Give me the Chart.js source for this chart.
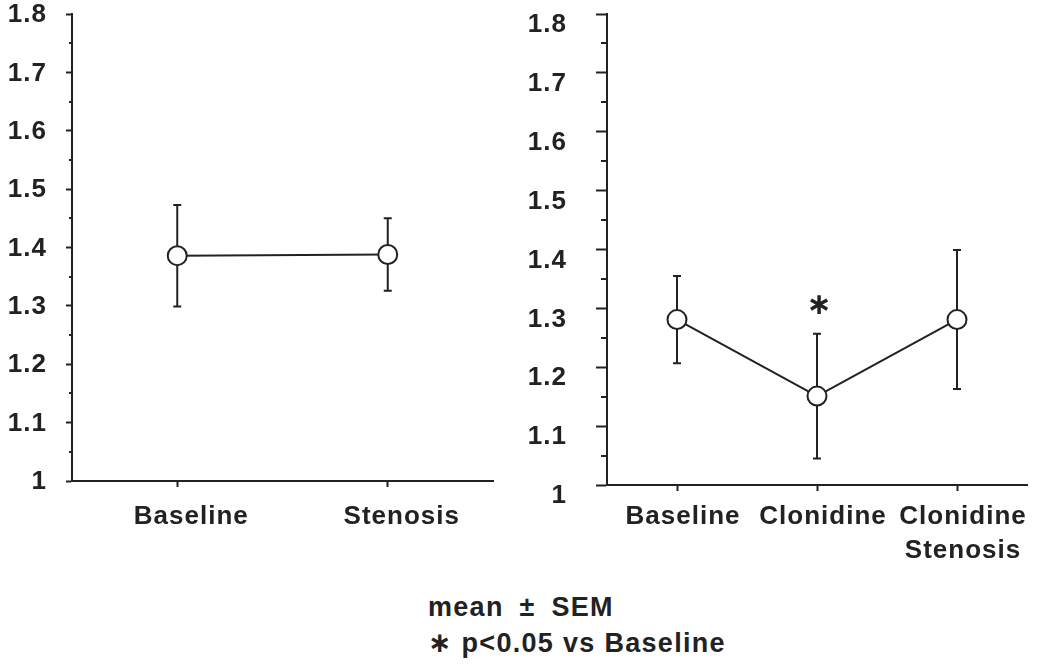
<!DOCTYPE html>
<html>
<head>
<meta charset="utf-8">
<script src="https://cdn.jsdelivr.net/npm/chart.js@4.4.1/dist/chart.umd.min.js"></script>
<style>
  html, body { margin: 0; padding: 0; background: #ffffff; }
  body { width: 1040px; height: 670px; position: relative; overflow: hidden; }
  canvas { position: absolute; }
  #c1 { left: 0; top: 0; }
  #c2 { left: 520px; top: 0; }
  .note { position: absolute; left: 428px; font: bold 27px "Liberation Sans", Arial, sans-serif; color: #222; line-height: 32px; white-space: pre; letter-spacing: 1.3px; }
  .star { font-family: "DejaVu Sans", sans-serif; font-size: 28px; }
</style>
</head>
<body>
<canvas id="c1" width="520" height="560"></canvas>
<canvas id="c2" width="520" height="580"></canvas>
<div class="note" style="top:591px; word-spacing:7px">mean ± SEM</div>
<div class="note" style="top:627px"><span class="star">∗</span> p&lt;0.05 vs Baseline</div>
<script>
// ---- data ----
const leftCategories = ['Baseline', 'Stenosis'];
const leftMeans = [1.386, 1.388];
const leftSem = [0.087, 0.062];

const rightCategories = ['Baseline', 'Clonidine', ['Clonidine', 'Stenosis']];
const rightMeans = [1.281, 1.151, 1.281];
const rightSem = [0.074, 0.106, 0.118];
const rightSig = ['', '∗', ''];

const yMajorTicks = [1, 1.1, 1.2, 1.3, 1.4, 1.5, 1.6, 1.7, 1.8];
const yMinorTicks = [1.05, 1.15, 1.25, 1.35, 1.45, 1.55, 1.65, 1.75];

// ---- styling ----
const ink = '#222222';
const FONT = '"Liberation Sans", Arial, sans-serif';

const spacing = {
  id: 'spacing',
  beforeUpdate(chart) { chart.ctx.letterSpacing = '1px'; },
  beforeLayout(chart) { chart.ctx.letterSpacing = '1px'; },
  beforeDraw(chart) { chart.ctx.letterSpacing = '1px'; }
};

const errorBars = {
  id: 'errorBars',
  beforeDatasetsDraw(chart, args, opts) {
    const { ctx, scales: { x, y } } = chart;
    const means = chart.data.datasets[0].data;
    ctx.save();
    ctx.strokeStyle = ink;
    ctx.lineWidth = 2;
    means.forEach((m, i) => {
      const px = x.getPixelForValue(i);
      const top = y.getPixelForValue(m + opts.sem[i]);
      const bot = y.getPixelForValue(m - opts.sem[i]);
      ctx.beginPath();
      ctx.moveTo(px, top); ctx.lineTo(px, bot);
      ctx.moveTo(px - 4, top); ctx.lineTo(px + 4, top);
      ctx.moveTo(px - 4, bot); ctx.lineTo(px + 4, bot);
      ctx.stroke();
    });
    ctx.restore();
  },
  afterDatasetsDraw(chart, args, opts) {
    if (!opts.sig) return;
    const { ctx, scales: { x, y } } = chart;
    const means = chart.data.datasets[0].data;
    ctx.save();
    ctx.letterSpacing = '0px';
    ctx.fillStyle = ink;
    ctx.font = 'bold 30px "DejaVu Sans", sans-serif';
    ctx.textAlign = 'center';
    ctx.textBaseline = 'middle';
    means.forEach((m, i) => {
      if (!opts.sig[i]) return;
      const px = x.getPixelForValue(i);
      const top = y.getPixelForValue(m + opts.sem[i]);
      ctx.fillText(opts.sig[i], px + 2, top - 27);
    });
    ctx.restore();
  }
};

const minorTicks = {
  id: 'minorTicks',
  afterDraw(chart, args, opts) {
    const { ctx, scales: { y } } = chart;
    const ax = chart.chartArea.left;
    ctx.save();
    ctx.strokeStyle = ink;
    ctx.lineWidth = 2;
    ctx.beginPath();
    yMinorTicks.forEach(v => {
      const py = Math.round(y.getPixelForValue(v));
      ctx.moveTo(ax, py); ctx.lineTo(ax - opts.len, py);
    });
    ctx.stroke();
    ctx.restore();
  }
};

function makeChart(id, cfg) {
  return new Chart(document.getElementById(id), {
    type: 'line',
    data: {
      labels: cfg.categories,
      datasets: [{
        data: cfg.means,
        borderColor: ink,
        borderWidth: 2,
        pointRadius: 9.5,
        pointBorderWidth: 2,
        pointBackgroundColor: '#ffffff',
        pointBorderColor: ink,
        tension: 0,
        clip: false
      }]
    },
    options: {
      responsive: false,
      animation: false,
      events: [],
      layout: { padding: cfg.padding },
      plugins: {
        legend: { display: false },
        tooltip: { enabled: false },
        errorBars: { sem: cfg.sem, sig: cfg.sig },
        minorTicks: { len: cfg.minorLen }
      },
      scales: {
        x: {
          type: 'category',
          offset: true,
          grid: { drawOnChartArea: false, drawTicks: true, tickLength: 6, tickColor: ink, tickWidth: 2 },
          border: { display: true, color: ink, width: 2 },
          ticks: {
            color: ink,
            font: { family: FONT, size: 26, weight: 'bold', lineHeight: 1.3 },
            padding: cfg.xPad,
            labelOffset: cfg.xLabelOffset,
            maxRotation: 0,
            autoSkip: false
          },
          afterFit(s) { s.height = cfg.xHeight; s.paddingLeft = 0; s.paddingRight = 0; }
        },
        y: {
          min: 1,
          max: 1.8,
          afterBuildTicks(s) { s.ticks = yMajorTicks.map(v => ({ value: v })); },
          grid: { drawOnChartArea: false, drawTicks: true, tickLength: cfg.majorLen, tickColor: ink, tickWidth: 2 },
          border: { display: true, color: ink, width: 2 },
          ticks: {
            color: ink,
            font: { family: FONT, size: 26, weight: 'bold' },
            padding: cfg.yPad,
            labelOffset: cfg.yLabelOffset,
            callback: v => String(Math.round(v * 10) / 10)
          },
          afterFit(s) { s.width = cfg.yWidth; s.paddingTop = 0; s.paddingBottom = 0; }
        }
      }
    },
    plugins: [spacing, errorBars, minorTicks]
  });
}

makeChart('c1', {
  categories: leftCategories, means: leftMeans, sem: leftSem, sig: null,
  padding: { top: 14, right: 27, left: 0, bottom: 0 },
  xHeight: 79, yWidth: 72, majorLen: 6, minorLen: 3, yPad: 19, xPad: 13,
  xLabelOffset: 14, yLabelOffset: 1
});

makeChart('c2', {
  categories: rightCategories, means: rightMeans, sem: rightSem, sig: rightSig,
  padding: { top: 14, right: 13, left: 0, bottom: 0 },
  xHeight: 95, yWidth: 87, majorLen: 11, minorLen: 6, yPad: 29, xPad: 9,
  xLabelOffset: 6, yLabelOffset: 11
});
</script>
</body>
</html>
